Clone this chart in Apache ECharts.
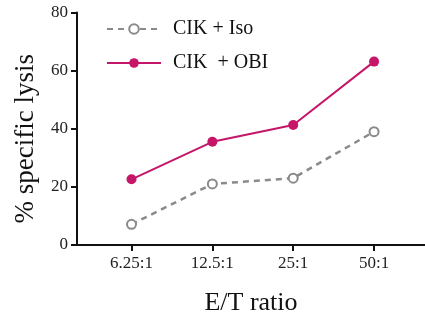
<!DOCTYPE html>
<html>
<head>
<meta charset="utf-8">
<script src="https://cdn.jsdelivr.net/npm/echarts@6/dist/echarts.min.js"></script>
<style>
  html, body { margin: 0; padding: 0; background: #fff; }
  #chart { width: 425px; height: 323px; }
</style>
</head>
<body>
<div id="chart"></div>
<script>
// E/T ratios tested
const categories = ['6.25:1', '12.5:1', '25:1', '50:1'];
// % specific lysis per group
const isoValues = [7.1, 21.0, 23.0, 39.0];
const obiValues = [22.6, 35.5, 41.3, 63.1];
const yTicks = [0, 20, 40, 60, 80];

const FONT = '"Liberation Serif", "DejaVu Serif", serif';
const catIdx = categories.map((_, i) => i);
const toPoints = vals => vals.map((v, i) => [i, v]);

const chart = echarts.init(document.getElementById('chart'));
chart.setOption({
  animation: false,
  grid: { left: 77, right: 0, top: 12.5, bottom: 78 },
  legend: {
    orient: 'vertical',
    left: 106,
    top: 19,
    padding: 0,
    itemWidth: 54,
    itemHeight: 12,
    itemGap: 14,
    textStyle: { fontFamily: FONT, fontSize: 20, color: '#111', padding: [0, 0, 0, 7] },
    data: ['CIK + Iso', 'CIK  + OBI']
  },
  xAxis: {
    type: 'value',
    min: -0.674,
    max: 3.63,
    name: 'E/T ratio',
    nameLocation: 'middle',
    nameGap: 45,
    nameTextStyle: { fontFamily: FONT, fontSize: 26, color: '#111' },
    axisLine: { onZero: false, lineStyle: { color: '#111', width: 2 } },
    axisTick: { show: true, customValues: catIdx, length: 6, lineStyle: { color: '#111', width: 2 } },
    axisLabel: {
      customValues: catIdx,
      formatter: v => categories[Math.round(v)],
      fontFamily: FONT, fontSize: 17, color: '#222', margin: 10
    },
    splitLine: { show: false }
  },
  yAxis: {
    type: 'value',
    min: yTicks[0],
    max: yTicks[yTicks.length - 1],
    interval: 20,
    name: '% specific lysis',
    nameLocation: 'middle',
    nameGap: 38,
    nameTextStyle: { fontFamily: FONT, fontSize: 27, color: '#111', padding: [0, 20, 0, 0] },
    axisLine: { show: true, onZero: false, lineStyle: { color: '#111', width: 2 } },
    axisTick: { show: true, length: 6, lineStyle: { color: '#111', width: 2 } },
    axisLabel: { fontFamily: FONT, fontSize: 17, color: '#222', margin: 9 },
    splitLine: { show: false }
  },
  series: [
    {
      name: 'CIK + Iso',
      type: 'line',
      data: toPoints(isoValues),
      symbol: 'circle',
      symbolSize: 9,
      itemStyle: { color: '#fff', borderColor: '#8a8a8a', borderWidth: 2 },
      lineStyle: { color: '#8a8a8a', width: 2.5, type: [6, 5] },
      z: 2
    },
    {
      name: 'CIK  + OBI',
      type: 'line',
      data: toPoints(obiValues),
      symbol: 'circle',
      symbolSize: 10,
      itemStyle: { color: '#c6166a' },
      lineStyle: { color: '#c6166a', width: 2 },
      z: 3
    }
  ]
});
</script>
</body>
</html>
